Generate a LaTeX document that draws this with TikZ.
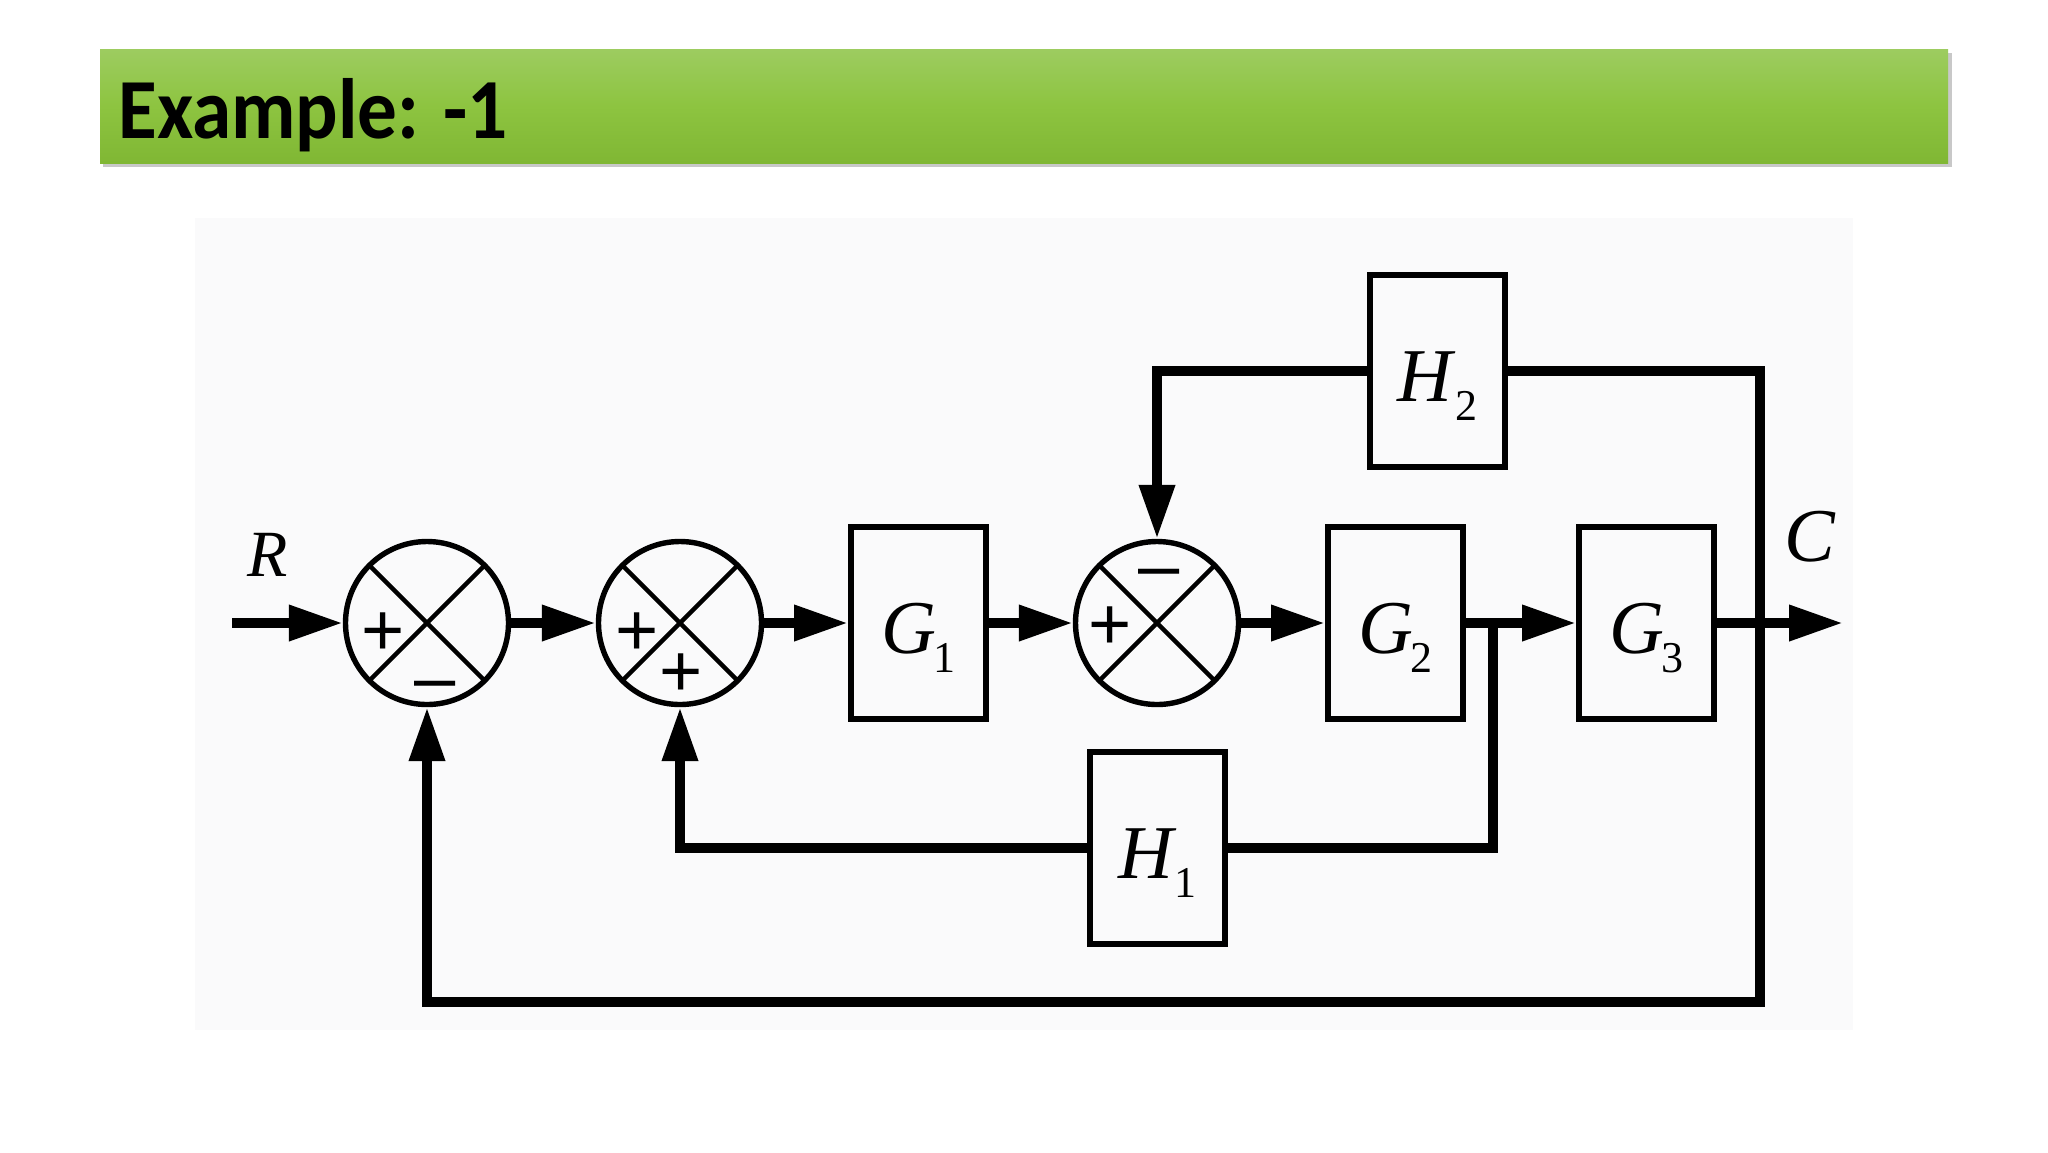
\documentclass[tikz,border=0pt]{standalone}
\usepackage{fontspec}
\usetikzlibrary{arrows.meta,calc}
\newfontfamily\lserif{Liberation Serif}
\newfontfamily\lsans{Liberation Sans}
\newfontfamily\carlito{Carlito}
\definecolor{bgpanel}{RGB}{250,250,251}
\definecolor{bartop}{RGB}{157,204,96}
\definecolor{barmid}{RGB}{141,196,64}
\definecolor{barbot}{RGB}{128,183,52}
\newcommand\blklabel[3][-1pt]{\raisebox{-15pt}[0pt][0pt]{\fontsize{38pt}{38pt}\selectfont\lserif\itshape #2\upshape\kern#1\raisebox{-9.5pt}{\fontsize{22pt}{22pt}\selectfont #3}}}
\begin{document}
\begin{tikzpicture}[x=0.5pt,y=-0.5pt,
  sig/.style={line width=5pt, line join=miter},
  arr/.style={sig,-{Triangle[length=27pt,width=17pt]}},
  blk/.style={draw, line width=3pt, minimum width=67.5pt, minimum height=96pt, inner sep=0pt},
  sumnode/.style={circle, draw, line width=2.7pt, minimum size=81.5pt, inner sep=0pt,
    path picture={\draw[line width=2.2pt]
      (path picture bounding box.north west) -- (path picture bounding box.south east)
      (path picture bounding box.north east) -- (path picture bounding box.south west);}},
  sign/.style={font=\lsans\fontsize{37pt}{37pt}\selectfont, inner sep=0pt},
  sig label/.style={font=\lserif\itshape, inner sep=0pt}]
\useasboundingbox (0,0) rectangle (2048,1152);
\fill[white] (0,0) rectangle (2048,1152);
% title bar
\fill[gray!60, opacity=0.7] (103,53) rectangle (1952,167);
\shade[top color=bartop, bottom color=barbot, middle color=barmid] (100,49) rectangle (1948,163);
\node[anchor=base west, inner sep=0pt, font=\carlito\bfseries\fontsize{40pt}{40pt}\selectfont] (title) at (118,138) {\scalebox{0.99}[1.07]{Example: -1}};
% diagram panel
\fill[bgpanel] (195,218) rectangle (1853,1030);
% summing junctions
\node[sumnode] (s1) at (427,623) {};
\node[sumnode] (s2) at (680,623) {};
\node[sumnode] (s3) at (1157,623) {};
% blocks
\node[blk] (G1) at (918.5,623) {\blklabel{G}{1}};
\node[blk] (G2) at (1395.5,623) {\blklabel{G}{2}};
\node[blk] (G3) at (1646.5,623) {\blklabel{G}{3}};
\node[blk] (H2) at (1437.5,371) {\blklabel[2pt]{H}{2}};
\node[blk] (H1) at (1157.5,848) {\blklabel[1pt]{H}{1}};
% signs
\node[sign] (p1) at (383,634) {+};
\node[sign] (m1) at (435,692) {–};
\node[sign] (p2) at (637,634) {+};
\node[sign] (p3) at (681,675) {+};
\node[sign] (p4) at (1110,628) {+};
\node[sign] (m3) at (1159,580) {–};
% signal labels
\node[sig label, font=\lserif\itshape\fontsize{33pt}{33pt}\selectfont] (R) at (268,555) {R};
\node[sig label, font=\lserif\itshape\fontsize{38pt}{38pt}\selectfont] (C) at (1810,537) {C};
% coordinates
\coordinate (in) at (232,623);
\coordinate (out) at (1843,623);
\coordinate (b1) at (1493,623);
\coordinate (b2) at (1760,623);
\coordinate (bot) at (1760,1002);
% forward path
\draw[arr] (in) -- (s1.west);
\draw[arr] (s1.east) -- (s2.west);
\draw[arr] (s2.east) -- (G1.west);
\draw[arr] (G1.east) -- (s3.west);
\draw[arr] (s3.east) -- (G2.west);
\draw[arr] (G2.east) -- (G3.west);
\draw[arr] (G3.east) -- (out);
% feedback H2
\draw[sig] (b2) |- (H2.east);
\draw[arr] (H2.west) -| (s3.north);
% feedback H1
\draw[sig] (b1) |- (H1.east);
\draw[arr] (H1.west) -| (s2.south);
% unity feedback
\draw[arr] (H2.east -| b2) -- (bot) -| (s1.south);
\end{tikzpicture}
\end{document}
